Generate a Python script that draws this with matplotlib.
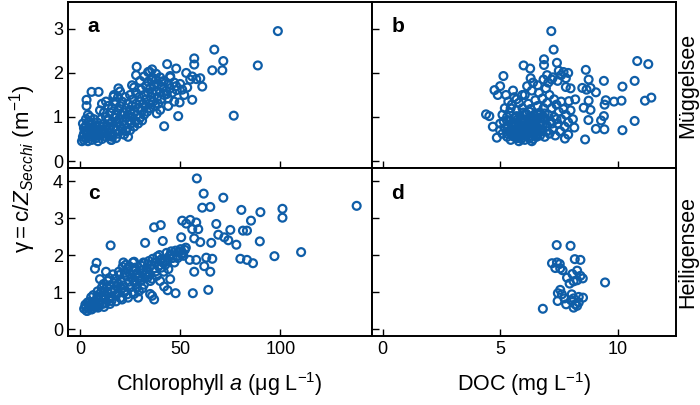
import numpy as np
import matplotlib
matplotlib.use("Agg")
import matplotlib.pyplot as plt

plt.rcParams['font.family'] = ['Liberation Sans', 'DejaVu Sans']
plt.rcParams['mathtext.fontset'] = 'custom'
plt.rcParams['mathtext.rm'] = 'Liberation Sans'
plt.rcParams['mathtext.it'] = 'Liberation Sans:italic'

# --- Müggelsee: chlorophyll a vs gamma (panel a)
chl_mug = [1, 1.5, 2, 2, 2.5, 3, 3, 3.5, 4, 4,
           4.5, 5, 5, 5.5, 6, 6, 6.5, 7, 7, 7.5,
           8, 8, 8.5, 9, 9, 9.5, 10, 10, 10.5, 11,
           2, 3, 1.5, 5, 4, 6, 8, 11, 12, 12,
           12.5, 13, 13, 13.5, 14, 14, 15, 15, 15.5, 16,
           16, 16.5, 17, 17, 17.5, 18, 18, 18.5, 19, 19,
           19.5, 20, 20, 20.5, 21, 21, 21.5, 22, 22, 22.5,
           23, 23, 23.5, 24, 24, 24.5, 25, 25, 25.5, 26,
           17, 19, 20, 18, 14, 12, 11, 10, 16, 23,
           26, 26.5, 27, 27.5, 28, 28, 28.5, 29, 29.5, 30,
           30, 30.5, 31, 31.5, 32, 32, 32.5, 33, 33, 33.5,
           34, 34, 34.5, 35, 35, 35.5, 36, 36, 36.5, 37,
           37.5, 38, 38, 38.5, 39, 39, 40, 40, 40.5, 41,
           42, 42, 43, 44, 44, 45, 45, 46, 47, 48,
           25, 27, 29, 31, 24, 22, 18, 15, 30, 26,
           28, 32, 34, 36, 38, 50, 51, 52, 47, 44,
           98.7, 67, 71.5, 66, 71, 88.7, 76.7, 57, 57, 28.3,
           43.5, 48, 53, 34.7, 61, 56, 49, 42, 5.8, 9.3,
           3.3, 3.3, 58, 60, 53.5, 48.3, 49.7, 43.3, 38.3, 40,
           45, 40.8, 35.8, 27, 19.2, 16.7, 13, 15.8, 55, 56]
gam_mug = [0.45, 0.55, 0.62, 0.48, 0.7, 0.52, 0.8, 0.6, 0.45, 0.68,
           0.9, 0.55, 0.75, 0.62, 0.48, 0.85, 0.7, 0.58, 0.95, 0.65,
           0.52, 0.78, 0.88, 0.62, 0.45, 0.72, 0.8, 0.58, 0.95, 0.67,
           0.75, 0.95, 0.85, 1.0, 1.05, 0.62, 0.68, 0.5, 0.85, 0.62,
           0.72, 1.0, 0.55, 0.8, 0.92, 0.65, 1.1, 0.75, 0.48, 0.88,
           1.2, 0.6, 0.98, 0.78, 1.3, 0.7, 1.05, 0.88, 1.15, 0.62,
           0.95, 1.25, 0.8, 1.05, 0.72, 1.35, 0.9, 1.1, 0.82, 1.45,
           0.98, 1.2, 0.75, 1.05, 1.3, 0.92, 1.15, 1.5, 0.85, 1.25,
           1.5, 1.45, 1.58, 1.35, 1.25, 1.1, 1.3, 1.15, 0.55, 0.68,
           1.0, 1.4, 1.12, 0.9, 1.3, 1.55, 1.05, 1.2, 1.45, 0.98,
           1.35, 1.62, 1.15, 1.3, 1.05, 1.5, 1.25, 1.7, 1.4, 1.12,
           1.55, 1.8, 1.3, 1.65, 1.2, 1.45, 1.9, 1.55, 1.35, 1.72,
           1.25, 1.6, 1.85, 1.45, 1.3, 1.75, 1.55, 1.9, 1.4, 1.68,
           1.82, 1.5, 1.6, 1.75, 1.42, 1.9, 1.65, 1.55, 1.78, 1.7,
           0.7, 0.78, 0.85, 0.92, 0.55, 0.6, 0.52, 0.58, 1.82, 1.72,
           1.95, 1.92, 2.02, 2.08, 1.98, 1.75, 1.62, 1.5, 1.35, 1.25,
           2.95, 2.53, 2.27, 2.06, 2.06, 2.17, 1.03, 2.33, 2.19, 2.14,
           2.2, 2.1, 2.0, 2.03, 1.69, 1.39, 1.02, 0.79, 1.57, 1.57,
           1.39, 1.25, 1.86, 1.88, 1.67, 1.61, 1.33, 1.52, 1.08, 1.16,
           1.93, 1.8, 1.84, 1.67, 1.65, 1.46, 1.35, 0.48, 1.85, 1.92]

# --- Müggelsee: DOC vs gamma (panel b)
doc_mug = [5.0, 5.1, 5.1, 5.2, 5.2, 5.3, 5.3, 5.35, 5.4, 5.4,
           5.45, 5.5, 5.5, 5.55, 5.6, 5.6, 5.65, 5.7, 5.7, 5.75,
           5.8, 5.8, 5.85, 5.9, 5.9, 5.95, 6.0, 6.0, 6.05, 6.1,
           6.1, 6.15, 6.2, 6.2, 6.25, 6.3, 6.3, 6.35, 6.4, 6.4,
           6.45, 6.5, 6.5, 6.55, 6.6, 6.6, 6.65, 6.7, 6.7, 6.75,
           6.8, 6.8, 6.85, 6.9, 6.9, 6.95, 7.0, 7.0, 7.05, 7.1,
           7.1, 7.15, 7.2, 7.25, 7.3, 7.3, 7.35, 7.4, 7.45, 7.5,
           7.55, 7.6, 7.6, 7.7, 7.75, 7.8, 7.9, 8.0, 5.25, 5.55,
           5.0, 5.15, 5.35, 5.5, 5.65, 5.75, 5.85, 6.0, 6.1, 6.2,
           6.3, 6.4, 6.5, 6.6, 6.7, 6.8, 6.9, 7.0, 7.2, 7.4,
           5.45, 5.7, 5.95, 6.15, 6.4, 6.6, 6.85, 7.05, 7.25, 7.45,
           7.6, 7.8, 5.3, 5.6, 5.9, 6.25, 6.55, 6.05, 5.8, 6.35,
           5.3, 5.45, 5.6, 5.75, 5.9, 6.05, 6.2, 6.35, 6.5, 6.65,
           5.4, 5.55, 5.7, 5.85, 6.0, 6.15, 6.3, 6.45, 6.6, 6.75,
           5.5, 5.65, 5.8, 5.95, 6.1, 6.25, 6.4, 6.55, 6.7, 6.85,
           7.18, 7.28, 10.84, 11.31, 11.44, 11.17, 10.73, 10.21, 10.17, 10.73,
           10.21, 9.42, 9.08, 9.5, 9.85, 9.45, 9.42, 9.3, 9.08, 9.44,
           8.62, 8.76, 8.56, 8.85, 8.77, 8.65, 8.77, 8.5, 8.85, 8.68,
           8.16, 7.9, 7.7, 7.5, 7.42, 6.87, 6.87, 6.0, 6.28, 5.14,
           4.76, 4.40, 4.54, 4.69, 4.86, 7.76, 7.56, 7.93, 6.3, 7.0,
           7.2, 7.8, 8.0, 4.9, 5.0, 8.2, 8.1, 7.9]
gdoc_mug = [0.85, 0.62, 1.05, 0.75, 1.2, 0.55, 0.92, 1.35, 0.68, 1.1,
            0.48, 0.82, 1.28, 0.6, 0.98, 1.45, 0.72, 0.52, 1.15, 0.88,
            0.65, 1.32, 1.02, 0.5, 0.78, 1.2, 0.92, 0.6, 1.5, 0.72,
            1.08, 0.85, 0.55, 1.3, 0.98, 0.68, 1.18, 1.6, 0.82, 0.5,
            1.05, 1.38, 0.65, 0.92, 1.25, 0.75, 1.55, 0.58, 1.1, 0.88,
            1.42, 0.7, 1.2, 0.95, 0.55, 1.65, 0.8, 1.32, 1.05, 0.62,
            1.5, 0.9, 1.2, 0.72, 1.4, 1.0, 0.58, 1.28, 0.85, 1.12,
            0.68, 1.35, 0.95, 1.18, 0.78, 1.05, 0.88, 1.15, 1.5, 1.6,
            0.7, 0.9, 0.8, 0.7, 0.85, 0.6, 0.75, 0.8, 0.58, 0.88,
            0.78, 0.95, 0.85, 0.62, 0.98, 0.82, 1.08, 0.68, 0.85, 0.95,
            1.2, 1.4, 1.5, 1.7, 1.78, 1.72, 1.85, 1.78, 1.9, 1.82,
            1.95, 1.88, 1.0, 0.55, 0.95, 0.52, 0.55, 0.48, 0.45, 0.45,
            0.62, 0.72, 0.58, 0.95, 0.68, 0.88, 0.74, 1.0, 0.7, 0.82,
            0.9, 0.66, 1.02, 0.56, 1.1, 0.64, 0.92, 0.6, 1.05, 0.72,
            0.58, 0.8, 0.7, 0.86, 0.62, 1.12, 0.7, 0.78, 0.66, 1.0,
            2.95, 2.53, 2.27, 2.2, 1.44, 1.37, 1.82, 1.69, 1.37, 0.91,
            0.70, 1.82, 1.56, 1.38, 1.35, 1.28, 1.02, 0.92, 0.73, 0.72,
            0.49, 0.93, 1.21, 1.16, 1.37, 2.07, 1.85, 1.66, 1.66, 1.62,
            0.76, 2.0, 2.02, 2.05, 2.23, 2.31, 2.18, 2.17, 2.1, 1.93,
            1.61, 1.06, 1.02, 0.78, 0.53, 0.51, 0.67, 1.36, 1.88, 1.95,
            1.85, 1.68, 1.65, 1.5, 1.7, 1.4, 0.95, 0.6]

# --- Heiligensee: chlorophyll a vs gamma (panel c)
chl_hei = [2.1, 2.7, 3.3, 2.9, 3.8, 4.4, 3.6, 4.9, 5.3, 4.6,
           5.8, 6.2, 5.6, 6.9, 7.3, 6.7, 7.9, 8.4, 7.6, 8.8,
           9.3, 8.7, 9.9, 10.4, 9.6, 10.9, 11.3, 10.7, 11.8, 12.4,
           11.9, 12.8, 13.4, 12.6, 13.9, 14.5, 13.7, 14.9, 15.4, 14.6,
           16.1, 15.7, 16.8, 17.3, 16.5, 17.9, 18.4, 17.6, 18.9, 19.4,
           19.1, 20.2, 19.7, 20.8, 21.3, 20.5, 21.9, 22.4, 21.6, 22.9,
           23.3, 22.7, 23.8, 24.4, 23.6, 24.9, 25.4, 24.6, 25.9, 26.3,
           26.7, 27.2, 26.4, 27.8, 28.3, 27.5, 28.9, 29.4, 28.6, 29.9,
           30.4, 29.6, 31.1, 31.6, 30.8, 32.2, 32.7, 31.9, 33.3, 33.8,
           34.4, 33.6, 35.1, 35.6, 34.8, 36.3, 36.8, 36.0, 37.4, 37.9,
           38.6, 39.2, 38.3, 40.1, 40.6, 39.7, 41.3, 41.8, 41.0, 42.6,
           43.2, 42.4, 44.1, 44.7, 43.8, 45.5, 46.2, 45.3, 47.1, 47.7,
           48.4, 49.1, 48.7, 50.2, 50.8, 49.9, 51.6, 52.3, 51.2, 52.8,
           6, 9, 12, 15, 18, 21, 24, 27, 10, 13,
           58.3, 61.7, 71.5, 138, 61, 65, 80.5, 90, 101, 101,
           85.3, 81.3, 83.3, 89.7, 97, 110.3, 80, 83.3, 86.3, 68,
           69, 72, 75, 74, 78, 51, 55, 53, 56, 59,
           58, 57, 50.5, 60, 65.5, 63, 66, 62, 65, 57,
           64, 56.3, 54.7, 58, 37, 40.3, 32.5, 41.3, 15.3, 8.3,
           7.5, 21.7, 27, 31.7, 47.7, 43.7, 36, 37, 35, 29,
           45, 40, 42]
gam_hei = [0.55, 0.66, 0.5, 0.6, 0.72, 0.57, 0.49, 0.64, 0.62, 0.74,
           0.53, 0.68, 0.86, 0.6, 0.74, 0.92, 0.6, 0.8, 0.7, 1.02,
           0.72, 0.88, 0.66, 0.99, 0.78, 1.12, 0.68, 0.86, 1.22, 0.84,
           1.0, 0.7, 1.14, 0.9, 1.3, 0.82, 1.02, 1.18, 0.87, 1.38,
           1.0, 0.76, 1.24, 1.08, 1.48, 0.9, 1.16, 1.36, 0.98, 1.55,
           1.22, 0.84, 1.46, 1.1, 1.68, 1.3, 0.98, 1.52, 1.18, 1.74,
           1.42, 1.04, 1.62, 1.28, 0.94, 1.5, 1.14, 1.7, 1.38, 1.0,
           1.58, 1.26, 1.8, 1.46, 1.12, 1.66, 1.38, 1.02, 1.52, 1.3,
           1.72, 1.44, 1.1, 1.6, 1.32, 1.78, 1.5, 1.2, 1.66, 1.4,
           1.84, 1.54, 1.3, 1.74, 1.48, 1.9, 1.64, 1.36, 1.8, 1.56,
           1.96, 1.7, 1.44, 1.86, 1.66, 2.0, 1.8, 1.55, 1.9, 1.74,
           2.06, 1.82, 1.62, 1.98, 1.86, 2.1, 1.92, 2.02, 1.8, 2.12,
           1.98, 2.08, 1.92, 2.16, 2.02, 2.1, 1.98, 2.14, 2.06, 2.2,
           0.55, 0.58, 0.6, 0.68, 0.75, 0.8, 0.85, 0.95, 1.35, 1.55,
           4.07, 3.66, 3.55, 3.33, 3.28, 3.30, 3.22, 3.16, 3.25, 3.01,
           2.93, 2.66, 2.66, 2.37, 1.97, 2.08, 1.9, 1.87, 1.78, 2.84,
           2.55, 2.48, 2.68, 2.4, 2.28, 2.93, 2.95, 2.85, 2.7, 2.7,
           2.88, 2.45, 2.48, 2.35, 2.33, 1.93, 1.9, 1.7, 1.55, 1.55,
           1.06, 0.97, 1.87, 1.87, 2.75, 2.81, 2.33, 2.38, 2.26, 1.79,
           1.63, 1.8, 1.82, 1.8, 0.97, 1.05, 0.9, 0.8, 0.95, 0.85,
           1.35, 1.3, 1.15]

# --- Heiligensee: DOC vs gamma (panel d)
doc_hei = [7.41, 8.0, 8.18, 8.42, 7.21, 7.42, 7.54, 7.35, 7.56, 7.66,
           8.08, 8.28, 8.42, 8.52, 8.28, 7.85, 7.96, 8.13, 9.47, 7.56,
           7.46, 7.63, 8.05, 8.13, 8.35, 8.53, 7.74, 7.45, 7.81, 8.02,
           8.2, 8.13, 8.28, 8.35, 6.82]
gdoc_hei = [2.27, 2.25, 1.89, 1.87, 1.78, 1.80, 1.76, 1.65, 1.64, 1.59,
            1.49, 1.58, 1.44, 1.37, 1.32, 1.39, 1.23, 1.29, 1.26, 1.06,
            0.97, 0.94, 0.94, 0.83, 0.87, 0.85, 0.83, 0.76, 0.67, 0.78,
            0.67, 0.58, 0.63, 0.72, 0.55]

blue = '#0f5ea8'

fig = plt.figure(figsize=(7, 4.05), dpi=100)
L, M, R = 0.097, 0.531, 0.966
T, C, B = 0.995, 0.585, 0.170
ax_a = fig.add_axes([L, C, M - L, T - C])
ax_b = fig.add_axes([M, C, R - M, T - C])
ax_c = fig.add_axes([L, B, M - L, C - B])
ax_d = fig.add_axes([M, B, R - M, C - B])

panels = [(ax_a, chl_mug, gam_mug, 'a'), (ax_b, doc_mug, gdoc_mug, 'b'),
          (ax_c, chl_hei, gam_hei, 'c'), (ax_d, doc_hei, gdoc_hei, 'd')]
for ax, xs, ys, lab in panels:
    ax.scatter(xs, ys, s=32, facecolors='none', edgecolors=blue, linewidths=1.6, zorder=3)
    ax.text(0.065, 0.85, lab, transform=ax.transAxes, fontsize=15, fontweight='bold',
            ha='left', va='center')
    for sp in ax.spines.values():
        sp.set_linewidth(1.4)
    ax.tick_params(direction='in', length=5, width=1, labelsize=13)

for ax in (ax_a, ax_c):
    ax.set_xlim(-6, 145.5)
    ax.set_xticks([0, 50, 100])
for ax in (ax_b, ax_d):
    ax.set_xlim(-0.47, 12.5)
    ax.set_xticks([0, 5, 10])
    ax.tick_params(labelleft=False)
for ax in (ax_a, ax_b):
    ax.set_ylim(-0.16, 3.61)
    ax.set_yticks([0, 1, 2, 3])
    ax.tick_params(labelbottom=False)
for ax in (ax_c, ax_d):
    ax.set_ylim(-0.19, 4.35)
    ax.set_yticks([0, 1, 2, 3, 4])

ax_c.set_xlabel(r'Chlorophyll $a$ (μg L$^{-1}$)', fontsize=15.5, labelpad=9)
ax_d.set_xlabel(r'DOC (mg L$^{-1}$)', fontsize=15.5, labelpad=9)
fig.text(0.032, (T + B) / 2, r'$\mathrm{\gamma = c}/Z_{Secchi}$ (m$^{-1}$)',
         rotation=90, ha='center', va='center', fontsize=16)
ax_b.text(1.038, 0.5, 'Müggelsee', transform=ax_b.transAxes, rotation=90,
          ha='center', va='center', fontsize=15.5)
ax_d.text(1.038, 0.5, 'Heiligensee', transform=ax_d.transAxes, rotation=90,
          ha='center', va='center', fontsize=15.5)

fig.savefig('out.png', dpi=100)
